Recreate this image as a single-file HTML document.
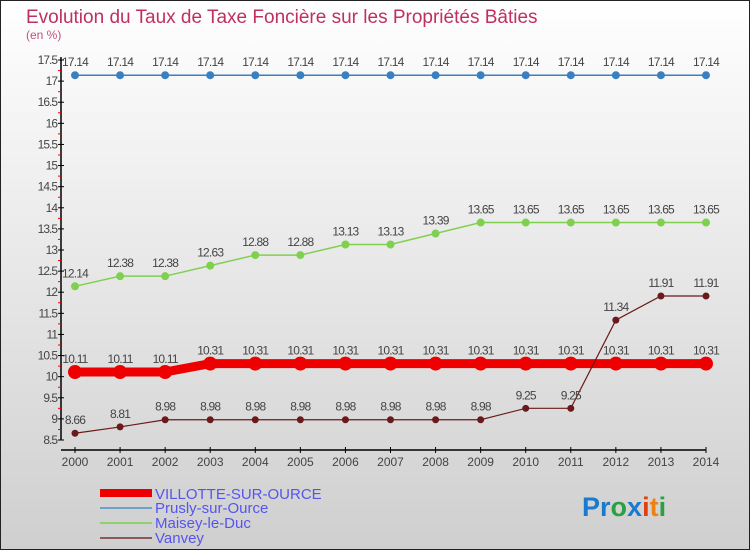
<!DOCTYPE html>
<html><head><meta charset="utf-8"><style>
body{margin:0}
#c{position:relative;width:750px;height:550px;font-family:"Liberation Sans",sans-serif;}
</style></head><body>
<div id="c">
<svg id="s" width="750" height="550" xmlns="http://www.w3.org/2000/svg">
<defs><linearGradient id="bg" x1="0" y1="0" x2="0" y2="1"><stop offset="0" stop-color="#ffffff"/><stop offset="1" stop-color="#cfcfcf"/></linearGradient></defs>
<rect x="0.5" y="0.5" width="749" height="549" fill="url(#bg)" stroke="#222"/>
<text x="26" y="23" font-size="19" fill="#c0305f">Evolution du Taux de Taxe Foncière sur les Propriétés Bâties</text>
<text x="26" y="39" font-size="12" fill="#c0507f">(en %)</text>
<g id="axes"></g><g id="series"></g>
<g>
<line x1="100" y1="493" x2="152" y2="493" stroke="#e00" stroke-width="8"/>
<text x="155" y="499" font-size="15" fill="#5555ee">VILLOTTE-SUR-OURCE</text>
<line x1="100" y1="508" x2="152" y2="508" stroke="#6fa0c8" stroke-width="2"/>
<text x="155" y="513" font-size="15" fill="#5555ee">Prusly-sur-Ource</text>
<line x1="100" y1="523" x2="152" y2="523" stroke="#8fd070" stroke-width="2"/>
<text x="155" y="528" font-size="15" fill="#5555ee">Maisey-le-Duc</text>
<line x1="100" y1="538" x2="152" y2="538" stroke="#8a5a5a" stroke-width="2"/>
<text x="155" y="543" font-size="15" fill="#5555ee">Vanvey</text>
</g>
<g font-size="27" font-weight="bold">
<text x="582" y="516"><tspan fill="#1a7ad0">Pr</tspan><tspan fill="#2aa040">o</tspan><tspan fill="#1a7ad0">x</tspan><tspan fill="#e04010">i</tspan><tspan fill="#f08010">t</tspan><tspan fill="#2aa040">i</tspan></text>
</g>
</svg>
</div>
<script>
const years=[2000,2001,2002,2003,2004,2005,2006,2007,2008,2009,2010,2011,2012,2013,2014];
const villotte=[10.11,10.11,10.11,10.31,10.31,10.31,10.31,10.31,10.31,10.31,10.31,10.31,10.31,10.31,10.31];
const prusly=[17.14,17.14,17.14,17.14,17.14,17.14,17.14,17.14,17.14,17.14,17.14,17.14,17.14,17.14,17.14];
const maisey=[12.14,12.38,12.38,12.63,12.88,12.88,13.13,13.13,13.39,13.65,13.65,13.65,13.65,13.65,13.65];
const vanvey=[8.66,8.81,8.98,8.98,8.98,8.98,8.98,8.98,8.98,8.98,9.25,9.25,11.34,11.91,11.91];
const yTicks=[8.5,9,9.5,10,10.5,11,11.5,12,12.5,13,13.5,14,14.5,15,15.5,16,16.5,17,17.5];
const NS="http://www.w3.org/2000/svg";
const x=i=>75+i*(706-75)/(years.length-1);
const y=v=>440-(v-8.5)*(380/9);
function mk(t,a,p){const e=document.createElementNS(NS,t);for(const k in a)e.setAttribute(k,a[k]);p.appendChild(e);return e;}
const ax=document.getElementById('axes');
let l=mk('line',{x1:61,y1:y(17.5)-3,x2:61,y2:y(8.5),stroke:'#000','stroke-width':1.5},ax);


l=mk('line',{x1:61,y1:450,x2:706,y2:450,stroke:'#000','stroke-width':1.5},ax);


yTicks.forEach((v,i)=>{
 mk('line',{x1:58,y1:y(v),x2:64,y2:y(v),stroke:'#000'},ax);
 if(i<yTicks.length-1) mk('line',{x1:58,y1:y(v+0.25),x2:61,y2:y(v+0.25),stroke:'#e00'},ax);
 const t=mk('text',{x:57,y:y(v)+4,'font-size':12,fill:'#444','text-anchor':'end','letter-spacing':'-1'},ax);
 t.textContent=String(v);
 
 
});
years.forEach((yr,i)=>{
 mk('line',{x1:x(i),y1:447,x2:x(i),y2:453,stroke:'#000'},ax);
 const t=mk('text',{x:x(i),y:466,'font-size':12,fill:'#444','text-anchor':'middle'},ax);
 t.textContent=yr;
 
 
});
const sg=document.getElementById('series');
function series(name,vals,color,w,r,labelColor){
 const g=mk('g',{},sg);
 
 
 mk('polyline',{points:vals.map((v,i)=>x(i)+','+y(v)).join(' '),fill:'none',stroke:color,'stroke-width':w},g);
 vals.forEach((v,i)=>{
  const c=mk('circle',{cx:x(i),cy:y(v),r:r,fill:color},g);
  
  
  const t=mk('text',{x:x(i),y:y(v)-9,'font-size':12,fill:'#444','text-anchor':'middle','letter-spacing':'-0.8'},g);
  t.textContent=String(v);
  
  
 });
}
series('prusly',prusly,'#3a80c0',1.5,4);
series('maisey',maisey,'#80d050',1.5,4);
series('villotte',villotte,'#ee0000',9,7);
series('vanvey',vanvey,'#6a1a1a',1.2,3.5);
</script>
</body></html>
